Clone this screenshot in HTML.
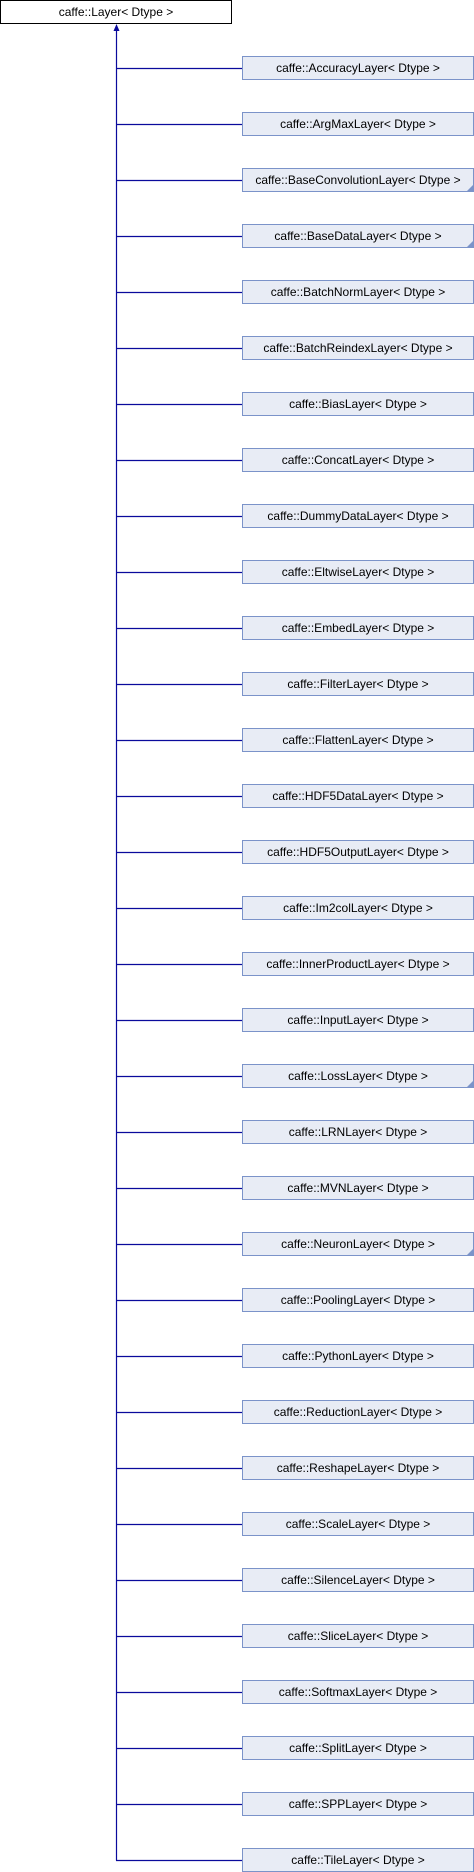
<!DOCTYPE html>
<html><head><meta charset="utf-8"><style>html,body{margin:0;padding:0;background:#fff}svg{display:block}</style></head><body>
<svg width="474" height="1872" xmlns="http://www.w3.org/2000/svg" font-family="Liberation Sans, sans-serif" font-size="12">
<rect x="0.5" y="0.5" width="231" height="23" fill="#fff" stroke="#000"/>
<text x="116" y="16" text-anchor="middle">caffe::Layer&lt; Dtype &gt;</text>
<line x1="116.5" y1="30" x2="116.5" y2="1860.5" stroke="#0a0a9c" stroke-width="1.2"/>
<polygon points="116.5,24 113.5,31 119.5,31" fill="#0a0a9c"/>
<g id="rows"></g>
</svg>
<script>
var names=["AccuracyLayer","ArgMaxLayer","BaseConvolutionLayer*","BaseDataLayer*","BatchNormLayer","BatchReindexLayer","BiasLayer","ConcatLayer","DummyDataLayer","EltwiseLayer","EmbedLayer","FilterLayer","FlattenLayer","HDF5DataLayer","HDF5OutputLayer","Im2colLayer","InnerProductLayer","InputLayer","LossLayer*","LRNLayer","MVNLayer","NeuronLayer*","PoolingLayer","PythonLayer","ReductionLayer","ReshapeLayer","ScaleLayer","SilenceLayer","SliceLayer","SoftmaxLayer","SplitLayer","SPPLayer","TileLayer"];
var g=document.getElementById("rows"),h="";
names.forEach(function(n,i){var y=56+i*56,tri=n.endsWith("*");n=n.replace("*","");
h+='<line x1="116" y1="'+(y+12.5)+'" x2="242" y2="'+(y+12.5)+'" stroke="#0a0a9c" stroke-width="1.2"/>';
h+='<rect x="242.5" y="'+(y+0.5)+'" width="231" height="23" fill="#e8ecf5" stroke="#7b93c9"/>';
if(tri)h+='<polygon points="473,'+(y+17)+' 473,'+(y+23)+' 467,'+(y+23)+'" fill="#7b93c9"/>';
h+='<text x="358" y="'+(y+16)+'" text-anchor="middle">caffe::'+n+'&lt; Dtype &gt;</text>';});
g.innerHTML=h;
</script>
</body></html>
